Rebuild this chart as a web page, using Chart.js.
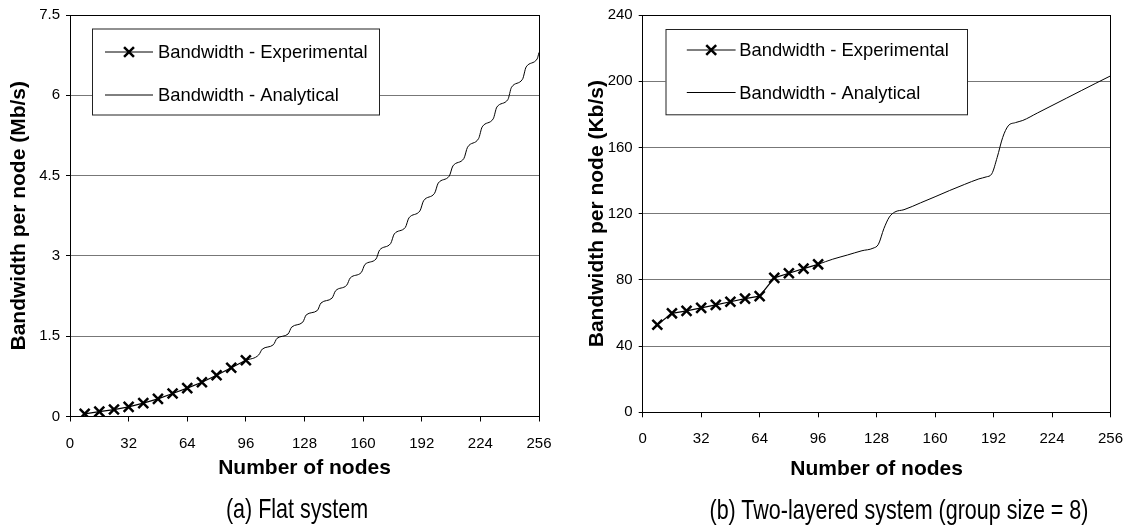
<!DOCTYPE html>
<html>
<head>
<meta charset="utf-8">
<script src="https://cdn.jsdelivr.net/npm/chart.js@4.4.1/dist/chart.umd.min.js"></script>
<style>
  html, body { margin: 0; padding: 0; background: #fff; }
  body { width: 1136px; height: 529px; position: relative; overflow: hidden; font-family: "Liberation Sans", Arial, sans-serif; }
  canvas { position: absolute; top: 0; }
  #flat { left: 0; }
  #layered { left: 568px; }
  .caption { position: absolute; font-size: 21.5px; color: #000; white-space: nowrap; transform: translate(-50%, -50%) scale(1, 1.3); }
</style>
</head>
<body>
<canvas id="flat" width="568" height="529"></canvas>
<canvas id="layered" width="568" height="529"></canvas>
<div class="caption" style="left:297px; top:510px">(a) Flat system</div>
<div class="caption" style="left:899px; top:511px">(b) Two-layered system (group size = 8)</div>
<script>
// x ticks shared by both charts
const nodeTicks = [0, 32, 64, 96, 128, 160, 192, 224, 256];
const flatTicks = [0, 1.5, 3, 4.5, 6, 7.5];
const layeredTicks = [0, 40, 80, 120, 160, 200, 240];

// measured points (8 .. 96 nodes)
const expNodes = [8, 16, 24, 32, 40, 48, 56, 64, 72, 80, 88, 96];
const flatExperimental = [0.05, 0.09, 0.13, 0.18, 0.25, 0.33, 0.43, 0.53, 0.64, 0.77, 0.91, 1.05];
const layeredExperimental = [52.9, 59.8, 61.3, 63.1, 64.9, 66.8, 68.7, 70.2, 81.2, 84.0, 86.8, 89.4];

// analytical curves (flat one steps every 8 nodes)
const flatAnalyticalNodes = [96, 103, 105, 111, 113, 119, 121, 127, 129, 135, 137, 143, 145, 151, 153,
  159, 161, 167, 169, 175, 177, 183, 185, 191, 193, 199, 201, 207, 209, 215, 217, 223, 225,
  231, 233, 239, 241, 247, 249, 255, 256];
const flatAnalytical = [1.05, 1.15, 1.26, 1.34, 1.46, 1.54, 1.67, 1.76, 1.90, 1.98, 2.12, 2.21, 2.35, 2.45, 2.59,
  2.69, 2.84, 2.94, 3.11, 3.23, 3.41, 3.53, 3.71, 3.84, 4.03, 4.17, 4.36, 4.49, 4.68, 4.82, 5.03, 5.19, 5.41,
  5.56, 5.78, 5.92, 6.15, 6.30, 6.53, 6.68, 6.80];
const layeredAnalyticalNodes = [96, 104, 112, 120, 126, 129, 132, 135, 138, 143, 152, 160, 168, 176, 184,
  188, 191, 194, 197, 200, 204, 208, 216, 224, 232, 240, 248, 256];
const layeredAnalytical = [89.4, 92.5, 95, 97.6, 99.1, 101.5, 111, 118, 121, 122.4, 126.5, 130.2, 134, 137.6, 141,
  142.2, 144, 154, 166, 173, 175, 176.3, 180.8, 185.3, 189.8, 194.3, 198.8, 203.2];

const FONT = "'Liberation Sans', Arial, sans-serif";

const pts = (xs, ys) => xs.map((x, i) => ({ x: x, y: ys[i] }));

// black frame on top and right of the plot
const frame = {
  id: "frame",
  afterDatasetsDraw(chart) {
    const { ctx, chartArea: a } = chart;
    ctx.save();
    ctx.strokeStyle = "#000";
    ctx.lineWidth = 1;
    ctx.beginPath();
    ctx.moveTo(a.left, Math.round(a.top) + 0.5);
    ctx.lineTo(a.right, Math.round(a.top) + 0.5);
    ctx.moveTo(Math.round(a.right) + 0.5, a.top);
    ctx.lineTo(Math.round(a.right) + 0.5, a.bottom);
    ctx.stroke();
    ctx.restore();
  },
};

// boxed legend inside the plot
const boxLegend = {
  id: "boxLegend",
  afterDraw(chart, args, o) {
    const ctx = chart.ctx;
    ctx.save();
    ctx.fillStyle = "#fff";
    ctx.fillRect(o.x, o.y, o.w, o.h);
    ctx.strokeStyle = "#222";
    ctx.lineWidth = 1;
    ctx.strokeRect(o.x + 0.5, o.y + 0.5, o.w, o.h);
    chart.data.datasets.forEach((ds, i) => {
      const y = o.rows[i];
      ctx.strokeStyle = "#000";
      ctx.lineWidth = 1;
      ctx.beginPath();
      ctx.moveTo(o.x0, y);
      ctx.lineTo(o.x1, y);
      ctx.stroke();
      if (ds.pointRadius > 0) {
        ctx.lineWidth = ds.pointBorderWidth;
        Chart.helpers.drawPoint(ctx, { pointStyle: ds.pointStyle, radius: ds.pointRadius, borderWidth: ds.pointBorderWidth, rotation: 0 }, (o.x0 + o.x1) / 2, y);
      }
      ctx.fillStyle = "#000";
      ctx.font = "18.4px " + FONT;
      ctx.textBaseline = "middle";
      ctx.fillText(ds.label, o.textX, y + 1);
    });
    ctx.restore();
  },
};

function makeChart(id, cfg) {
  return new Chart(document.getElementById(id), {
    type: "line",
    data: {
      datasets: [
        {
          label: "Bandwidth - Experimental",
          data: pts(expNodes, cfg.experimental),
          borderColor: "#000",
          borderWidth: 1.2,
          pointStyle: "crossRot",
          pointRadius: 7,
          pointBorderWidth: 2.5,
          pointBorderColor: "#000",
          tension: 0,
        },
        {
          label: "Bandwidth - Analytical",
          data: pts(cfg.anNodes, cfg.analytical),
          borderColor: "#000",
          borderWidth: 1,
          pointRadius: 0,
          cubicInterpolationMode: "monotone",
        },
      ],
    },
    options: {
      responsive: false,
      animation: false,
      events: [],
      layout: { autoPadding: false, padding: { left: 0, right: cfg.padRight, top: cfg.padTop, bottom: 0 } },
      plugins: { legend: { display: false }, tooltip: { enabled: false }, boxLegend: cfg.legend },
      scales: {
        x: {
          type: "linear",
          min: 0,
          max: 256,
          afterBuildTicks: (s) => { s.ticks = nodeTicks.map((v) => ({ value: v })); },
          afterFit: (s) => { s.height = cfg.xHeight; },
          grid: { drawOnChartArea: false, drawTicks: true, tickLength: 5, tickColor: "#000" },
          border: { display: true, color: "#000", width: 1 },
          ticks: { color: "#000", padding: 13, font: { family: FONT, size: 15 }, maxRotation: 0 },
          title: { display: true, text: "Number of nodes", color: "#000", font: { family: FONT, size: 21, weight: "bold" }, padding: { top: 0, bottom: cfg.xTitlePad } },
        },
        y: {
          min: 0,
          max: cfg.yMax,
          afterBuildTicks: (s) => { s.ticks = cfg.yTicks.map((v) => ({ value: v })); },
          afterFit: (s) => { s.width = cfg.yWidth; },
          grid: { color: (c) => (c.tick.value === 0 ? "rgba(0,0,0,0)" : "#777"), lineWidth: 1, drawTicks: true, tickLength: 4, tickColor: "#000" },
          border: { display: true, color: "#000", width: 1 },
          ticks: { color: "#000", padding: 6, font: { family: FONT, size: 15 } },
          title: { display: true, text: cfg.yTitle, color: "#000", font: { family: FONT, size: 21, weight: "bold" }, padding: { top: cfg.yTitlePad, bottom: 0 } },
        },
      },
    },
    plugins: [frame, boxLegend],
  });
}

makeChart("flat", {
  experimental: flatExperimental,
  anNodes: flatAnalyticalNodes,
  analytical: flatAnalytical,
  yMax: 7.5,
  yTicks: flatTicks,
  yTitle: "Bandwidth per node (Mb/s)",
  padRight: 29,
  padTop: 12,
  xHeight: 112.5,
  yWidth: 70,
  xTitlePad: 48,
  yTitlePad: 7,
  legend: { x: 92, y: 28.5, w: 287, h: 86, x0: 105, x1: 153, textX: 158, rows: [52, 95] },
});

makeChart("layered", {
  experimental: layeredExperimental,
  anNodes: layeredAnalyticalNodes,
  analytical: layeredAnalytical,
  yMax: 240,
  yTicks: layeredTicks,
  yTitle: "Bandwidth per node (Kb/s)",
  padRight: 20.7,
  padTop: 11,
  xHeight: 116.7,
  yWidth: 74.7,
  xTitlePad: 47,
  yTitlePad: 17,
  legend: { x: 97.5, y: 29, w: 301.5, h: 85.3, x0: 118.8, x1: 167.6, textX: 171.3, rows: [50, 92.5] },
});
</script>
</body>
</html>
